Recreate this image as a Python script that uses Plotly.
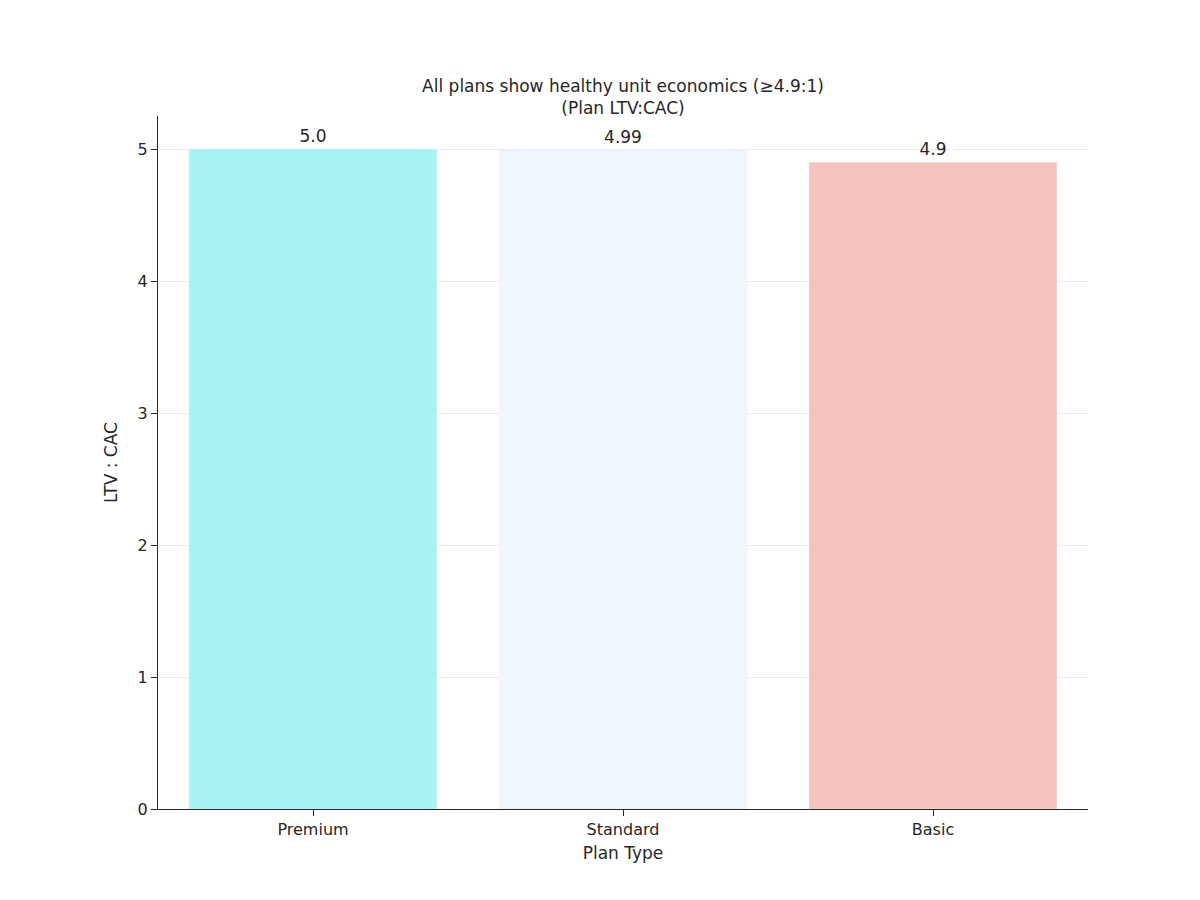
import plotly.graph_objects as go

plans = ["Premium", "Standard", "Basic"]
ratios = [5.0, 4.99, 4.9]
labels = ["5.0", "4.99", "4.9"]
colors = ["#a7f2f2", "#f0f6ff", "#f4c3bd"]

fig = go.Figure(go.Bar(
    x=plans, y=ratios, marker_color=colors, width=0.8,
    text=labels, textposition="outside", cliponaxis=False,
    textfont=dict(size=17, color="#262626"),
))
fig.update_layout(
    width=1200, height=900, plot_bgcolor="white", paper_bgcolor="white",
    font=dict(family="DejaVu Sans", color="#262626", size=16),
    margin=dict(l=150, r=120, t=108, b=99, autoexpand=False),
    title=dict(text="All plans show healthy unit economics (≥4.9:1)<br>(Plan LTV:CAC)",
               x=0.5125, xanchor="center", y=0.907, yanchor="middle", font=dict(size=17)),
    showlegend=False,
)
fig.update_xaxes(title=dict(text="Plan Type", font=dict(size=17), standoff=8), showline=True, linecolor="#262626",
                 ticks="outside", tickcolor="#262626", ticklen=6, range=[-0.5, 2.5], automargin=False)
fig.update_yaxes(title=dict(text="LTV : CAC", font=dict(size=17)), showline=True, linecolor="#262626",
                 ticks="outside", tickcolor="#262626", ticklen=6, range=[0, 5.25], automargin=False,
                 dtick=1, gridcolor="#ebebeb", zeroline=False)
fig.write_html("out.html")
